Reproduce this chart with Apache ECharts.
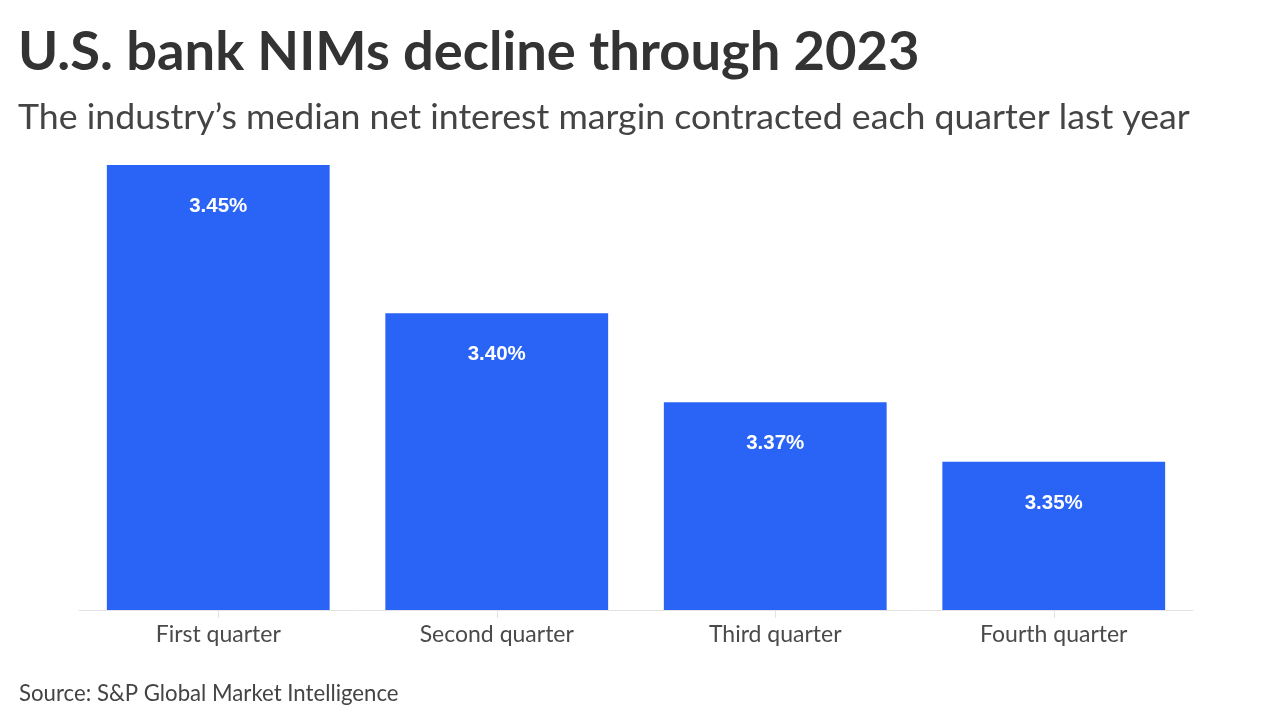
<!DOCTYPE html>
<html>
<head>
<meta charset="utf-8">
<script src="https://cdn.jsdelivr.net/npm/echarts@6/dist/echarts.min.js"></script>
<style>
html,body{margin:0;padding:0;background:#fff;}
#c{width:1280px;height:720px;}
</style>
</head>
<body>
<div id="c"></div>
<script>
const categories = ["First quarter", "Second quarter", "Third quarter", "Fourth quarter"];
const nimValues = [3.45, 3.40, 3.37, 3.35];
const titleText = "U.S. bank NIMs decline through 2023";
const subtitleText = "The industry\u2019s median net interest margin contracted each quarter last year";
const sourceText = "Source: S&P Global Market Intelligence";

const chart = echarts.init(document.getElementById('c'), null, {renderer: 'canvas'});
chart.setOption({
  backgroundColor: '#ffffff',
  animation: false,
  title: [
    {text: titleText, left: 13, top: 20,
     textStyle: {fontFamily: 'Lato', fontWeight: 'bold', fontSize: 54.3, color: '#333333'}},
    {text: subtitleText, left: 13, top: 94,
     textStyle: {fontFamily: 'Lato', fontWeight: 'normal', fontSize: 35.7, color: '#444444'}},
    {text: sourceText, left: 14, top: 678,
     textStyle: {fontFamily: 'Lato', fontWeight: 'normal', fontSize: 22.2, color: '#444444'}}
  ],
  grid: {left: 79, right: 87, top: 165, bottom: 110, containLabel: false},
  xAxis: {
    type: 'category',
    data: categories,
    axisLine: {show: true, lineStyle: {color: '#e3e3e3', width: 1}},
    axisTick: {show: true, alignWithLabel: true, length: 8, lineStyle: {color: '#e3e3e3'}},
    axisLabel: {fontFamily: 'Lato', fontWeight: 'normal', fontSize: 23, color: '#4a4a4a', margin: 13}
  },
  yAxis: {
    type: 'value', min: 3.30, max: 3.45, show: false,
    splitLine: {show: false}
  },
  series: [{
    type: 'bar',
    data: nimValues,
    barWidth: '80%',
    itemStyle: {color: '#2a64f6'},
    label: {
      show: true, position: 'insideTop', distance: 31,
      formatter: p => p.value.toFixed(2) + '%',
      fontFamily: 'Liberation Sans', fontWeight: 'bold', fontSize: 20.5, color: '#ffffff'
    }
  }]
});
</script>
</body>
</html>
